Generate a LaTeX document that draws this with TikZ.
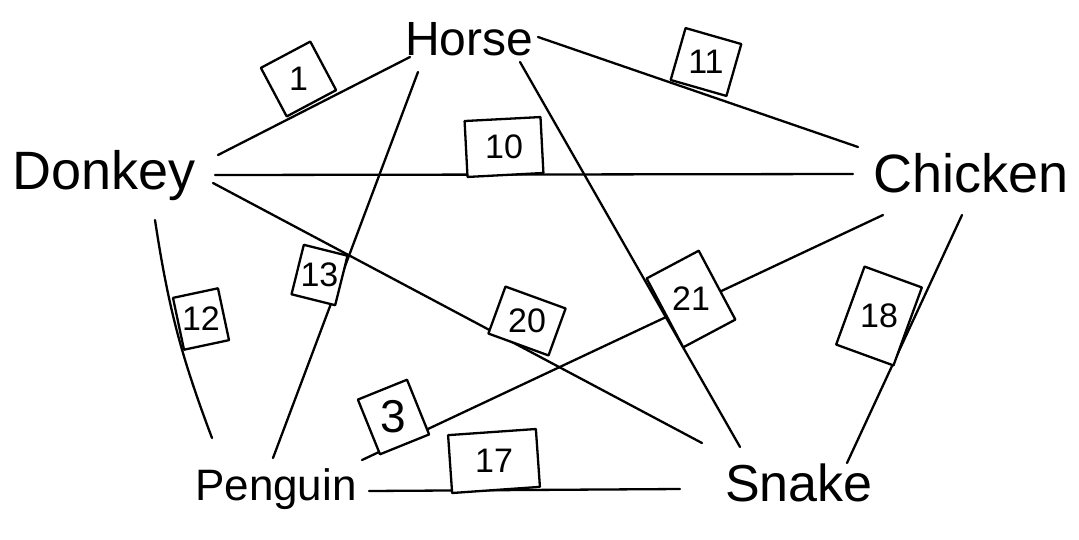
\documentclass[tikz,border=0pt]{standalone}
\usepackage{fontspec}
\setmainfont{Liberation Sans}
\begin{document}
\begin{tikzpicture}[x=1pt,y=-1pt,
  edge/.style={line width=2.3pt, line cap=round},
  animal/.style={inner sep=0pt, anchor=base west},
  wbox/.style={draw, line width=2.3pt, fill=white, inner sep=0pt, line join=round},
  wnum/.style={inner sep=0pt, font=\fontsize{34}{34}\selectfont},
]
\useasboundingbox (0,0) rectangle (1079,539);
\fill[white] (0,0) rectangle (1079,539);

% animals
\node[animal, font=\fontsize{48}{48}\selectfont] (horse)   at (405,55)  {Horse};
\node[animal, font=\fontsize{54}{54}\selectfont] (donkey)  at (12,189)  {Donkey};
\node[animal, font=\fontsize{54}{54}\selectfont] (chicken) at (873,192) {Chicken};
\node[animal, font=\fontsize{44}{44}\selectfont] (penguin) at (195,500) {Penguin};
\node[animal, font=\fontsize{52}{52}\selectfont] (snake)   at (725,501) {Snake};

% connector ends
\coordinate (hd) at (410,57);  \coordinate (hp) at (418,72);
\coordinate (hs) at (520,62);  \coordinate (hc) at (538,37);
\coordinate (dh) at (218,155); \coordinate (dc) at (215,175);
\coordinate (ds) at (213,183); \coordinate (dp) at (155,220);
\coordinate (ch) at (858,147); \coordinate (cd) at (853,174);
\coordinate (cp) at (883,215); \coordinate (cs) at (962,215);
\coordinate (pd) at (212,438); \coordinate (ph) at (273,458);
\coordinate (pc) at (362,460); \coordinate (ps) at (369,491);
\coordinate (sh) at (740,447); \coordinate (sd) at (702,443);
\coordinate (sc) at (847,463); \coordinate (sp) at (680,489);

% connectors
\draw[edge] (hd) -- (dh);
\draw[edge] (hc) -- (ch);
\draw[edge] (dc) -- (cd);
\draw[edge] (hp) -- (ph);
\draw[edge] (hs) -- (sh);
\draw[edge] (ds) -- (sd);
\draw[edge] (dp) to[bend right=6] (pd);
\draw[edge] (cp) -- (pc);
\draw[edge] (cs) -- (sc);
\draw[edge] (ps) -- (sp);

% weight boxes
\node[wbox, minimum width=56pt, minimum height=55pt, rotate=28]  (w1)  at (298.5,79) {};
\node[wbox, minimum width=58pt, minimum height=54pt, rotate=-16] (w11) at (706,62)   {};
\node[wbox, minimum width=76pt, minimum height=56pt, rotate=3]   (w10) at (504,147)  {};
\node[wbox, minimum width=45pt, minimum height=51pt, rotate=-14] (w13) at (319.5,275) {};
\node[wbox, minimum width=46pt, minimum height=53pt, rotate=12]  (w12) at (201,319)  {};
\node[wbox, minimum width=59pt, minimum height=78pt, rotate=28]  (w21) at (691,299)  {};
\node[wbox, minimum width=61pt, minimum height=83pt, rotate=-20] (w18) at (879,316)  {};
\node[wbox, minimum width=64pt, minimum height=50pt, rotate=-20] (w20) at (527,321)  {};
\node[wbox, minimum width=53pt, minimum height=59pt, rotate=22]  (w3)  at (393.5,417) {};
\node[wbox, minimum width=88pt, minimum height=58pt, rotate=4]   (w17) at (494,461)  {};

% weights
\node[wnum] (t1)  at (w1)  {1};
\node[wnum] (t11) at (w11) {11};
\node[wnum] (t10) at (w10) {10};
\node[wnum] (t13) at (w13) {13};
\node[wnum] (t12) at (w12) {12};
\node[wnum] (t21) at (w21) {21};
\node[wnum] (t18) at (w18) {18};
\node[wnum] (t20) at (w20) {20};
\node[wnum, font=\fontsize{46}{46}\selectfont] (t3) at (w3) {3};
\node[wnum] (t17) at (w17) {17};
\end{tikzpicture}
\end{document}
